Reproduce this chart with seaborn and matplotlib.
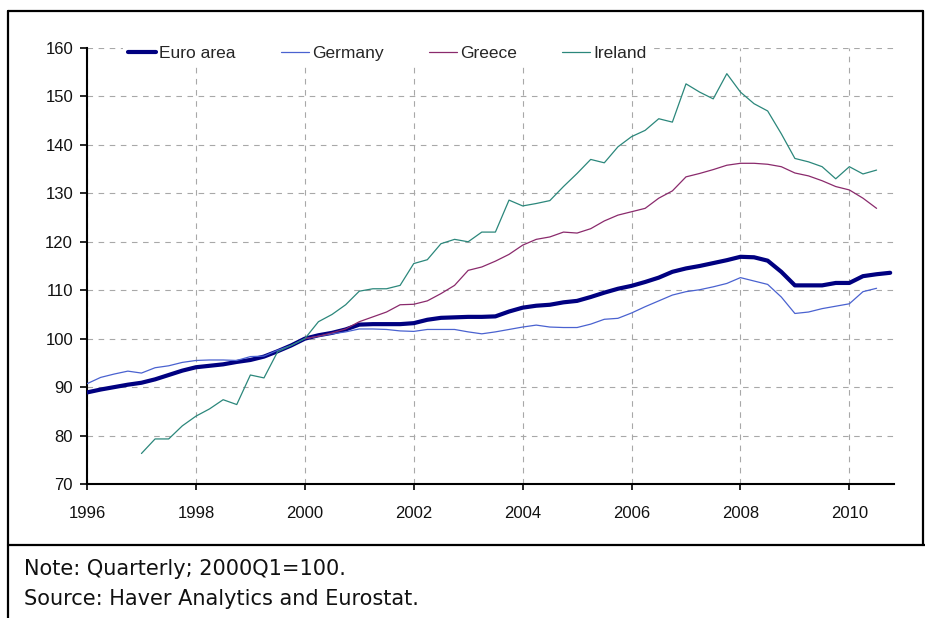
import numpy as np
import pandas as pd
import matplotlib
matplotlib.use("Agg")
import matplotlib.pyplot as plt
import seaborn as sns
from matplotlib.lines import Line2D

# quarterly index, 2000Q1 = 100, quarters 1996Q1 .. 2010Q4
nan = np.nan
euro_area = [
    88.9, 89.5, 90.0, 90.5,
    90.9, 91.6, 92.5, 93.4,
    94.1, 94.4, 94.7, 95.2,
    95.6, 96.3, 97.4, 98.6,
    100.0, 100.7, 101.2, 101.9,
    102.9, 103.0, 103.0, 103.0,
    103.2, 103.9, 104.3, 104.4,
    104.5, 104.5, 104.6, 105.6,
    106.4, 106.8, 107.0, 107.5,
    107.8, 108.6, 109.5, 110.3,
    110.9, 111.7, 112.6, 113.8,
    114.5, 115.0, 115.6, 116.2,
    116.9, 116.8, 116.1, 113.8,
    111.0, 111.0, 111.0, 111.5,
    111.5, 112.9, 113.3, 113.6,
]
germany = [
    90.7, 92.0, 92.7, 93.3,
    92.9, 94.0, 94.4, 95.1,
    95.5, 95.6, 95.6, 95.5,
    96.3, 96.4, 97.6, 98.6,
    100.0, 100.5, 101.0, 101.4,
    102.0, 102.0, 101.9, 101.6,
    101.5, 101.9, 101.9, 101.9,
    101.4, 101.0, 101.4, 101.9,
    102.4, 102.8, 102.4, 102.3,
    102.3, 103.0, 104.0, 104.2,
    105.3, 106.6, 107.8, 109.0,
    109.7, 110.1, 110.7, 111.4,
    112.6, 111.9, 111.2, 108.6,
    105.2, 105.5, 106.2, 106.7,
    107.2, 109.7, 110.4, nan,
]
greece = [
    nan, nan, nan, nan,
    nan, nan, nan, nan,
    nan, nan, nan, nan,
    nan, nan, nan, nan,
    100.0, 100.5, 101.2, 102.0,
    103.5, 104.5, 105.5, 107.0,
    107.1, 107.8, 109.3, 111.0,
    114.1, 114.8, 116.0, 117.4,
    119.3, 120.5, 121.0, 122.0,
    121.8, 122.7, 124.3, 125.5,
    126.2, 126.9, 129.0, 130.5,
    133.4, 134.1, 134.9, 135.8,
    136.2, 136.2, 136.0, 135.5,
    134.2, 133.6, 132.6, 131.4,
    130.7, 129.0, 126.9, nan,
]
ireland = [
    nan, nan, nan, nan,
    76.3, 79.3, 79.3, 82.0,
    84.0, 85.5, 87.4, 86.4,
    92.5, 91.9, 97.3, 98.6,
    100.0, 103.5, 105.0, 107.0,
    109.8, 110.3, 110.3, 111.0,
    115.5, 116.3, 119.6, 120.5,
    120.0, 122.0, 122.0, 128.6,
    127.4, 127.9, 128.5, 131.4,
    134.1, 137.0, 136.3, 139.6,
    141.7, 143.0, 145.4, 144.7,
    152.6, 150.9, 149.5, 154.7,
    150.9, 148.5, 147.0, 142.3,
    137.2, 136.5, 135.5, 133.0,
    135.5, 134.0, 134.8, nan,
]
series_names = ["Euro area", "Germany", "Greece", "Ireland"]
year_ticks = [1996, 1998, 2000, 2002, 2004, 2006, 2008, 2010]
value_ticks = [70, 80, 90, 100, 110, 120, 130, 140, 150, 160]

quarter = 1996 + np.arange(len(euro_area)) / 4.0
df = pd.DataFrame({"quarter": quarter, "Euro area": euro_area, "Germany": germany,
                   "Greece": greece, "Ireland": ireland})

colors = {"Euro area": "#000080", "Germany": "#4a62d0",
          "Greece": "#8a2a6c", "Ireland": "#2b877b"}
widths = {"Euro area": 3.0, "Germany": 0.9, "Greece": 0.9, "Ireland": 0.9}

sns.set_style("white")
plt.rcParams["font.family"] = "sans-serif"
plt.rcParams["font.sans-serif"] = ["Liberation Sans", "DejaVu Sans"]

fig = plt.figure(figsize=(9.25, 6.18), dpi=100)
ax = fig.add_axes([87 / 925, 1 - 484 / 618, 807 / 925, 436 / 618])

for name in series_names:
    sns.lineplot(data=df, x="quarter", y=name, ax=ax, color=colors[name],
                 linewidth=widths[name], label=name, zorder=3)

ax.set_xlim(1996, 2010.82)
ax.set_ylim(70, 160)
ax.set_xticks(year_ticks)
ax.set_yticks(value_ticks)
ax.set_xlabel("")
ax.set_ylabel("")
ax.grid(True, color="#a8a8a8", linestyle=(0, (5, 5)), linewidth=0.8)
ax.set_axisbelow(True)

for side in ["top", "right"]:
    ax.spines[side].set_visible(False)
for side in ["left", "bottom"]:
    ax.spines[side].set_color("black")
    ax.spines[side].set_linewidth(1.5)

ax.tick_params(axis="x", direction="out", length=4, width=1.2, color="black",
               pad=12, labelsize=12, labelcolor="#111111", bottom=True)
ax.tick_params(axis="y", direction="out", length=5, width=1.2, color="black",
               pad=5, labelsize=12, labelcolor="#111111", left=True)
for lab in ax.get_xticklabels() + ax.get_yticklabels():
    lab.set_family("Liberation Sans")

handles = [Line2D([], [], color=colors[n], linewidth=widths[n]) for n in series_names]
leg = ax.legend(handles, series_names, ncol=4, loc="center left",
                bbox_to_anchor=(0.0446, 0.9885), frameon=True,
                prop={"family": "Liberation Sans", "size": 12.5},
                facecolor="white", edgecolor="none", framealpha=1,
                handlelength=1.6, handletextpad=0.2, columnspacing=2.6,
                borderpad=0.3, borderaxespad=0)
leg.get_frame().set_boxstyle("square", pad=0)

# outer box and separator, drawn in figure pixels
def fx(px):
    return px / 925

def fy(py):
    return 1 - py / 618

box = dict(color="black", linewidth=1.6, transform=fig.transFigure)
fig.add_artist(Line2D([fx(8), fx(8)], [fy(11), fy(618)], **box))
fig.add_artist(Line2D([fx(8), fx(923)], [fy(11), fy(11)], **box))
fig.add_artist(Line2D([fx(923), fx(923)], [fy(11), fy(545)], **box))
fig.add_artist(Line2D([fx(8), fx(925)], [fy(545), fy(545)], **box))

fig.text(fx(24), fy(569), "Note: Quarterly; 2000Q1=100.", fontsize=15,
         family=["DejaVu Sans"], va="center", ha="left", color="#111111")
fig.text(fx(24), fy(599), "Source: Haver Analytics and Eurostat.", fontsize=15,
         family=["DejaVu Sans"], va="center", ha="left", color="#111111")

fig.savefig("out.png", dpi=100)
